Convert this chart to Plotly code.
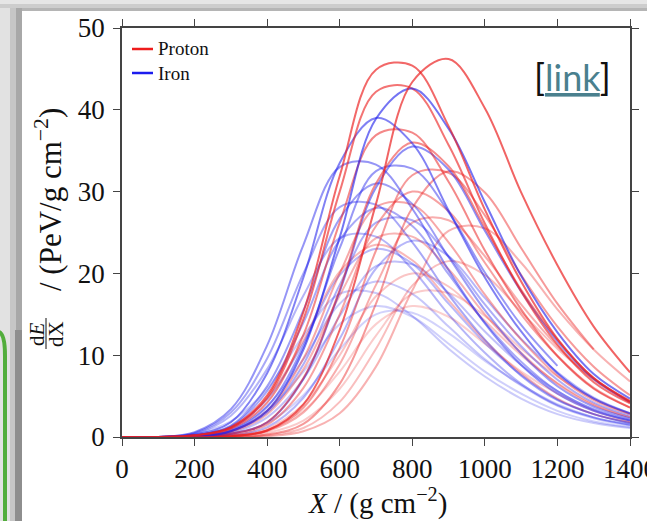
import plotly.graph_objects as go

# ---------------- data ----------------
depth = list(range(0, 1401, 100))  # X in g/cm^2

proton_profiles = [
    [0, 0, 0, 0.1, 0.8, 4.0, 13.1, 28.5, 43.4, 46.2, 40.2, 29.9, 21.0, 13.5, 7.9],
    [0, 0, 0.2, 1.2, 5.1, 15.3, 31.9, 44.9, 45.4, 38.0, 27.8, 19.0, 12.0, 7.2, 4.4],
    [0, 0, 0.2, 1.1, 4.8, 14.4, 30.0, 42.2, 42.6, 35.7, 26.1, 17.8, 11.3, 6.7, 4.1],
    [0, 0, 0.2, 1.0, 4.2, 12.5, 26.2, 36.9, 37.2, 31.2, 22.8, 15.6, 9.9, 5.9, 3.6],
    [0, 0, 0, 0.4, 1.8, 7.2, 18.0, 31.0, 36.0, 33.1, 25.6, 18.0, 11.9, 7.2, 4.3],
    [0, 0, 0, 0.1, 0.8, 3.6, 10.9, 22.8, 32.0, 32.3, 27.1, 19.8, 13.5, 8.6, 5.1],
    [0, 0, 0, 0, 0.3, 1.6, 6.5, 16.3, 28.0, 32.5, 29.9, 23.1, 16.3, 10.7, None],
    [0, 0, 0, 0.3, 1.5, 6.0, 15.0, 25.8, 30.0, 27.6, 21.3, 15.0, 9.9, 6.0, 3.6],
    [0, 0, 0.1, 0.7, 3.2, 9.6, 20.0, 28.1, 28.4, 23.8, 17.4, 11.9, 7.5, 4.5, 2.8],
    [0, 0, 0, 0.1, 0.7, 3.0, 8.9, 18.6, 26.2, 26.5, 22.1, 16.2, 11.1, 7.0, 4.2],
    [0, 0, 0, 0, 0.1, 0.7, 2.9, 8.6, 17.9, 25.2, 25.5, 21.3, 15.6, 10.7, 6.8],
    [0, 0, 0.1, 0.6, 2.8, 8.3, 17.3, 24.3, 24.5, 20.5, 15.0, 10.3, 6.5, 3.9, 2.4],
    [0, 0, 0.2, 1.2, 4.7, 11.8, 20.2, 23.5, 21.6, 16.7, 11.8, 7.8, 4.7, 2.8, 1.8],
    [0, 0, 0, 0, 0.2, 1.1, 4.3, 10.8, 18.5, 21.5, 19.8, 15.3, 10.8, 7.1, 4.3],
    [0, 0, 0, 0.2, 1.0, 4.0, 10.0, 17.2, 20.0, 18.4, 14.2, 10.0, 6.6, 4.0, 2.4],
    [0, 0, 0, 0.1, 0.5, 2.0, 5.9, 12.4, 17.5, 17.6, 14.8, 10.8, 7.4, 4.7, 2.8],
    [0, 0, 0, 0.2, 0.8, 3.2, 8.0, 13.8, 16.0, 14.7, 11.4, 8.0, 5.3, 3.2, 1.9],
]

iron_profiles = [
    [0, 0, 0, 0.7, 3.2, 10.7, 24.4, 38.9, 42.6, 37.7, 28.7, 19.7, 12.8, 7.7, 4.7],
    [0, 0, 0.3, 1.8, 7.8, 19.5, 33.5, 39.0, 35.9, 27.7, 19.5, 12.9, 7.8, 4.7, 2.9],
    [0, 0, 0, 0.4, 1.8, 7.1, 17.8, 30.5, 35.5, 32.7, 25.2, 17.8, 11.7, 7.1, 4.3],
    [0, 0, 0.6, 3.4, 11.2, 23.5, 33.0, 33.3, 27.9, 20.4, 13.9, 8.8, 5.3, 3.2, 2.0],
    [0, 0, 0.1, 0.8, 3.7, 11.1, 23.1, 32.5, 32.8, 27.5, 20.1, 13.7, 8.7, None, None],
    [0, 0, 0.2, 1.4, 6.2, 15.5, 26.7, 31.0, 28.5, 22.0, 15.5, 10.2, 6.2, 3.7, 2.3],
    [0, 0, 0.5, 3.0, 9.6, 20.0, 28.1, 28.4, 23.8, 17.4, 11.9, 7.5, 4.5, 2.8, 1.7],
    [0, 0, 0.2, 1.3, 5.6, 14.0, 24.1, 28.0, 25.8, 19.9, 14.0, 9.2, 5.6, 3.4, 2.1],
    [0, 0, 0.1, 0.7, 3.0, 8.9, 18.6, 26.2, 26.5, 22.1, 16.2, 11.1, 7.0, 4.2, 2.6],
    [0, 0, 0.4, 2.6, 8.3, 17.3, 24.3, 24.5, 20.5, 15.0, 10.3, 6.5, 3.9, 2.4, 1.5],
    [0, 0, 0, 0.2, 1.2, 4.8, 12.0, 20.6, 24.0, 22.1, 17.0, 12.0, 7.9, 4.8, 2.9],
    [0, 0, 0.2, 1.1, 4.6, 11.5, 19.8, 23.0, 21.2, 16.3, 11.5, 7.6, 4.6, 2.8, 1.7],
    [0, 0, 0.1, 0.5, 2.4, 7.1, 14.8, 20.9, 21.1, 17.6, 12.9, 8.8, 5.6, 3.3, 2.0],
    [0, 0, 0.1, 0.9, 3.8, 9.5, 16.3, 19.0, 17.5, 13.5, 9.5, 6.3, 3.8, 2.3, 1.4],
    [0, 0, 0.4, 1.9, 5.9, 12.4, 17.5, 17.6, 14.8, 10.8, 7.4, 4.7, 2.8, 1.7, 1.1],
    [0, 0, 0.1, 0.7, 3.2, 8.0, 13.8, 16.0, 14.7, 11.4, 8.0, 5.3, 3.2, 1.9, 1.2],
    [0, 0, 0.1, 0.4, 1.7, 5.1, 10.7, 15.0, 15.2, 12.7, 9.3, 6.4, 4.0, 2.4, 1.5],
]

x_ticks = [0, 200, 400, 600, 800, 1000, 1200, 1400]
y_ticks = [0, 10, 20, 30, 40, 50]
legend_labels = ["Proton", "Iron"]

# ---------------- layout geometry ----------------
W, H = 647, 521
L, R, T, B = 122, 17, 28, 84
PW, PH = W - L - R, H - T - B


def px(x):
    return (x - L) / PW


def py(y):
    return (H - B - y) / PH


SERIF = "Liberation Serif, Times New Roman, serif"

fig = go.Figure()

curves = [(p, "proton") for p in proton_profiles] + [(p, "iron") for p in iron_profiles]
curves.sort(key=lambda c: max(v for v in c[0] if v is not None))
for prof, kind in curves:
    peak = max(v for v in prof if v is not None)
    a = 0.05 + 0.65 * (peak / 47.0) ** 1.3
    col = f"rgba(235,30,30,{a:.2f})" if kind == "proton" else f"rgba(30,30,235,{a:.2f})"
    fig.add_trace(go.Scatter(
        x=depth, y=prof, mode="lines",
        line=dict(color=col, width=2, shape="spline", smoothing=1.0),
        showlegend=False, hoverinfo="skip", connectgaps=False,
    ))

shapes = []
# slide background / frame
shapes.append(dict(type="rect", xref="paper", yref="paper", layer="below",
                   x0=px(0), x1=px(700), y0=py(0), y1=py(4),
                   fillcolor="#e6e6e6", line=dict(width=0)))
shapes.append(dict(type="rect", xref="paper", yref="paper", layer="below",
                   x0=px(0), x1=px(700), y0=py(4), y1=py(8),
                   fillcolor="#cdcdcd", line=dict(width=0)))
shapes.append(dict(type="rect", xref="paper", yref="paper", layer="below",
                   x0=px(10), x1=px(700), y0=py(8), y1=py(11),
                   fillcolor="#b5b5b5", line=dict(width=0)))
shapes.append(dict(type="rect", xref="paper", yref="paper", layer="below",
                   x0=px(10), x1=px(16), y0=py(8), y1=py(540),
                   fillcolor="#c6c6c6", line=dict(width=0)))
shapes.append(dict(type="rect", xref="paper", yref="paper", layer="below",
                   x0=px(16), x1=px(22), y0=py(8), y1=py(540),
                   fillcolor="#a8a8a8", line=dict(width=0)))
shapes.append(dict(type="rect", xref="paper", yref="paper", layer="below",
                   x0=px(15), x1=px(22), y0=py(330), y1=py(540),
                   fillcolor="#8e8e8e", line=dict(width=0)))
shapes.append(dict(type="rect", xref="paper", yref="paper", layer="below",
                   x0=px(22), x1=px(700), y0=py(11), y1=py(540),
                   fillcolor="white", line=dict(width=0)))
# green rounded frame edge at the left
shapes.append(dict(type="path", xref="paper", yref="paper", layer="below",
                   path=f"M {px(-1)},{py(332)} Q {px(5)},{py(334)} {px(5)},{py(356)} L {px(5)},{py(540)}",
                   line=dict(color="#52ad3c", width=4)))
# legend samples
shapes.append(dict(type="line", xref="paper", yref="paper",
                   x0=px(132), x1=px(153), y0=py(49), y1=py(49),
                   line=dict(color="#ee1c1c", width=2.5)))
shapes.append(dict(type="line", xref="paper", yref="paper",
                   x0=px(132), x1=px(153), y0=py(73), y1=py(73),
                   line=dict(color="#1c1cee", width=2.5)))
# fraction bar of dE/dX (rotated)
shapes.append(dict(type="line", xref="paper", yref="paper",
                   x0=px(46), x1=px(46), y0=py(318), y1=py(349),
                   line=dict(color="#111", width=1)))

annotations = []
annotations.append(dict(xref="paper", yref="paper", x=px(156), y=py(49),
                        text=legend_labels[0], showarrow=False, xanchor="left", yanchor="middle",
                        font=dict(family=SERIF, size=19, color="#111")))
annotations.append(dict(xref="paper", yref="paper", x=px(156), y=py(73),
                        text=legend_labels[1], showarrow=False, xanchor="left", yanchor="middle",
                        font=dict(family=SERIF, size=19, color="#111")))
annotations.append(dict(xref="paper", yref="paper", x=px(572), y=py(77),
                        text="[<span style='color:#4a808e'><u>link</u></span>]",
                        showarrow=False, xanchor="center", yanchor="middle",
                        font=dict(family="Lato, Open Sans, sans-serif", size=36, color="#111")))
annotations.append(dict(xref="paper", yref="paper", x=px(377), y=py(501),
                        text="<i>X</i> / (g cm<sup>\u22122</sup>)",
                        showarrow=False, xanchor="center", yanchor="middle",
                        font=dict(family=SERIF, size=29, color="#111")))
annotations.append(dict(xref="paper", yref="paper", x=px(48), y=py(200),
                        text="/ (PeV/g cm<sup>\u22122</sup>)", textangle=-90,
                        showarrow=False, xanchor="center", yanchor="middle",
                        font=dict(family=SERIF, size=31, color="#111")))
annotations.append(dict(xref="paper", yref="paper", x=px(37), y=py(334),
                        text="d<i>E</i>", textangle=-90,
                        showarrow=False, xanchor="center", yanchor="middle",
                        font=dict(family=SERIF, size=21, color="#111")))
annotations.append(dict(xref="paper", yref="paper", x=px(56), y=py(334),
                        text="dX", textangle=-90,
                        showarrow=False, xanchor="center", yanchor="middle",
                        font=dict(family=SERIF, size=21, color="#111")))

axis_common = dict(
    ticks="outside", ticklen=7, tickwidth=1.2, tickcolor="#444",
    showline=True, linecolor="#444", linewidth=1.6, mirror="ticks",
    showgrid=False, zeroline=False, ticklabeloverflow="allow", automargin=False,
    tickfont=dict(family=SERIF, size=27, color="#111"),
)

fig.update_layout(
    width=W, height=H,
    margin=dict(l=L, r=R, t=T, b=B, pad=0, autoexpand=False),
    paper_bgcolor="#e2e2e2", plot_bgcolor="white",
    xaxis=dict(range=[0, 1400], tickmode="array", tickvals=x_ticks,
               ticktext=[str(v) for v in x_ticks], **axis_common),
    yaxis=dict(range=[0, 50], tickmode="array", tickvals=y_ticks,
               ticktext=[str(v) for v in y_ticks], ticklabelstandoff=3, **axis_common),
    shapes=shapes, annotations=annotations, showlegend=False,
)

fig.write_html("out.html", config={"displayModeBar": False},
               post_script="document.body.style.margin='0px';")
